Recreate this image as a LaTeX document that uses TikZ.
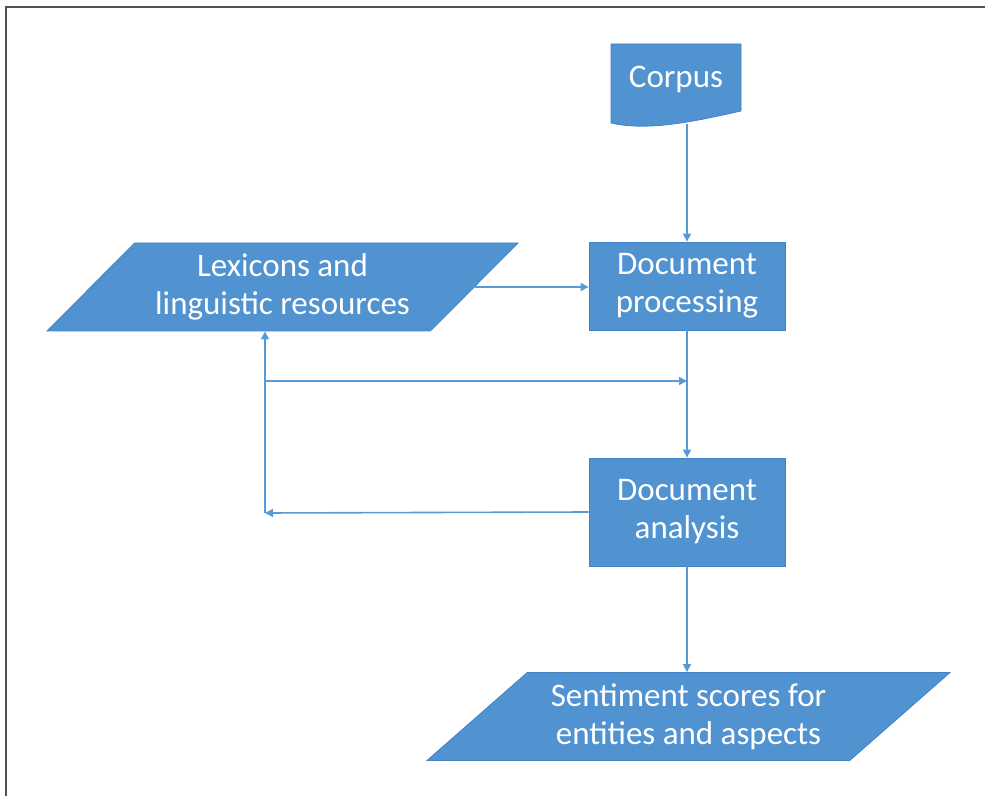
\documentclass[tikz,border=0pt]{standalone}
\usepackage{fontspec}
\setmainfont{Carlito}
\usetikzlibrary{shapes.geometric, arrows.meta, positioning}
\definecolor{boxblue}{RGB}{80,147,208}
\definecolor{edgeblue}{RGB}{65,131,196}
\definecolor{lineblue}{RGB}{88,154,213}
\definecolor{framegray}{RGB}{80,80,80}

\begin{document}
\begin{tikzpicture}[
  x=0.5pt, y=-0.5pt,
  font=\fontsize{16.5}{19}\selectfont,
  box/.style={draw=edgeblue, fill=boxblue, text=white, align=center, minimum width=98pt, inner sep=0pt},
  data/.style={trapezium, trapezium stretches body, draw=edgeblue, fill=boxblue, text=white, align=center, minimum height=44pt, inner xsep=0pt, inner ysep=4.5pt},
  doc/.style={draw=edgeblue, fill=boxblue},
  arrow/.style={-{Triangle[length=4pt, width=4pt]}, draw=lineblue, line width=0.8pt},
]
\useasboundingbox (0,0) rectangle (985,796);
\draw[framegray, line width=1pt] (6,796) -- (6,7) -- (985,7);

% Corpus (document shape)
\path[doc] (611,44) -- (741,44) -- (741,111) .. controls (700,120) and (650,132) .. (611,123) -- cycle;
\node[text=white] (corpus) at (676,79) {Corpus};

% Nodes
\node[box, minimum height=44pt] (proc) at (687,286) {Document\\processing};
\node[box, minimum height=54pt] (ana) at (687,512) {Document\\analysis};
\node[data, trapezium left angle=44, trapezium right angle=136, minimum width=235.5pt] (lex) at (282.5,287) {Lexicons and\\linguistic resources};
\node[data, trapezium left angle=40, trapezium right angle=140, minimum width=261.5pt] (sent) at (688.5,716.5) {Sentiment scores for\\entities and aspects};

% Loose ends
\coordinate (corpus foot) at (687,124);
\coordinate (back) at (265,513);
\coordinate (split) at (265,381);

% Arrows
\draw[arrow] (corpus foot) -- (proc);
\draw[arrow] (lex.east) -- (lex.east -| proc.west);
\draw[arrow] (proc) -- (ana);
\draw[arrow] (ana.south) -- (ana.south |- sent.north);
\draw[arrow] (ana.west) -- (back);
\draw[arrow] (back) -- (back |- lex.south);
\draw[arrow] (split) -- (split -| proc);

\end{tikzpicture}
\end{document}
